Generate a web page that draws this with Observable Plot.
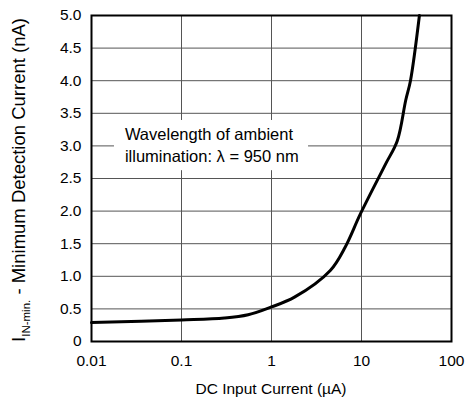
<!DOCTYPE html>
<html><head><meta charset="utf-8">
<script src="https://cdn.jsdelivr.net/npm/d3@7"></script>
<script src="https://cdn.jsdelivr.net/npm/@observablehq/plot@0.6"></script>
<style>body{margin:0;background:#fff;font-family:"Liberation Sans",Arial,sans-serif;}</style>
</head><body><div id="chart"></div>
<script>
const inputCurrent = [0.01, 0.1, 0.3, 0.55, 1, 1.8, 4.5, 6.6, 9.75, 18.5, 25, 31, 35, 44];
const detectionCurrent = [0.29, 0.33, 0.36, 0.41, 0.53, 0.68, 1.09, 1.45, 1.96, 2.72, 3.08, 3.70, 4.0, 5.0];
const xTicks = [0.01, 0.1, 1, 10, 100];
const xTickLabels = ["0.01", "0.1", "1", "10", "100"];
const yTicks = [0, 0.5, 1, 1.5, 2, 2.5, 3, 3.5, 4, 4.5, 5];
const yTickLabels = ["0", "0.5", "1.0", "1.5", "2.0", "2.5", "3.0", "3.5", "4.0", "4.5", "5.0"];
const noteLines = ["Wavelength of ambient", "illumination: λ = 950 nm"];

const data = inputCurrent.map((x, i) => ({x, y: detectionCurrent[i]}));
const W = 466, H = 401;
const plot = Plot.plot({
  width: W, height: H,
  marginLeft: 91, marginRight: 15, marginTop: 15, marginBottom: 60,
  style: {fontFamily: "'Liberation Sans', Arial, sans-serif", fontSize: "15.5px", color: "#000", background: "#fff"},
  x: {type: "log", domain: [0.01, 100], ticks: xTicks, tickFormat: (d) => xTickLabels[xTicks.indexOf(d)], label: null, tickSize: 0, tickPadding: 13},
  y: {domain: [0, 5], ticks: yTicks, tickFormat: (d) => yTickLabels[yTicks.indexOf(d)], label: null, tickSize: 0, tickPadding: 10},
  marks: [
    Plot.gridX(xTicks, {stroke: "#555", strokeOpacity: 1, strokeWidth: 1}),
    Plot.gridY(yTicks, {stroke: "#555", strokeOpacity: 1, strokeWidth: 1}),
    Plot.rect([{x1: 0.018, x2: 2.58, y1: 2.62, y2: 3.39}], {x1: "x1", x2: "x2", y1: "y1", y2: "y2", fill: "white"}),
    Plot.text([noteLines.join("\n")], {x: 0.0235, y: 3.03, text: d => d, textAnchor: "start", fontSize: 16.5, lineHeight: 1.3, fill: "#000"}),
    Plot.line(data, {x: "x", y: "y", stroke: "#000", strokeWidth: 3, curve: "catmull-rom"}),
    Plot.frame({stroke: "#000", strokeWidth: 2})
  ]
});
document.getElementById("chart").appendChild(plot);
const svg = d3.select(plot);
svg.append("text")
  .attr("x", 271).attr("y", 394).attr("text-anchor", "middle")
  .attr("font-size", 15.5).attr("fill", "#000")
  .text("DC Input Current (µA)");
const yl = svg.append("text")
  .attr("transform", "translate(25,180) rotate(-90)")
  .attr("text-anchor", "middle").attr("font-size", 18.5).attr("fill", "#000");
yl.append("tspan").text("I");
yl.append("tspan").attr("font-size", 11.5).attr("dy", 5).text("IN-min.");
yl.append("tspan").attr("dy", -5).text(" - Minimum Detection Current (nA)");
</script></body></html>
